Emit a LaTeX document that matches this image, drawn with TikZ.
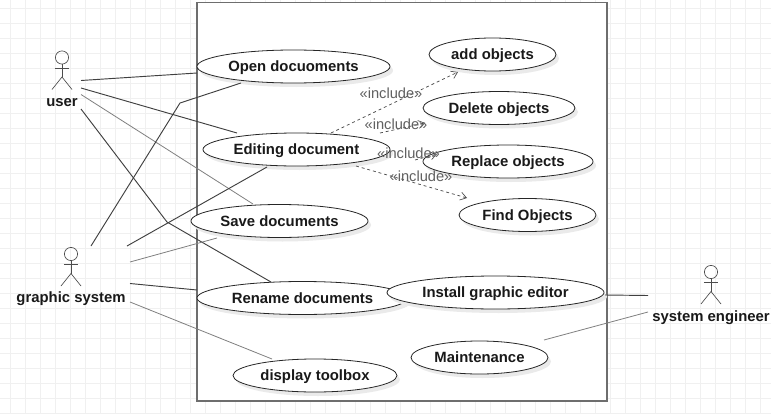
\documentclass[tikz,border=0pt]{standalone}
\usepackage{fontspec}
\setmainfont{Liberation Sans}
\usetikzlibrary{shapes.geometric,arrows.meta,calc}
\definecolor{boxgray}{HTML}{6E6E6E}
\definecolor{gridc}{HTML}{F0F0F0}
\definecolor{shad}{HTML}{EAEAEA}
\tikzset{
  x=0.75pt,y=-0.75pt,
  usecase/.style={ellipse,draw=black!85,fill=white,line width=0.6pt,inner sep=0,font=\bfseries\fontsize{11.15}{13}\selectfont,text=black!90,text height=9.4pt,text depth=1.6pt},
  actorlabel/.style={font=\bfseries\fontsize{11.15}{13}\selectfont,text=black!90,inner sep=0,text height=9.4pt,text depth=1.6pt},
  stick/.style={draw=black!70,line width=0.5pt},
  assoc/.style={draw=black!75,line width=0.7pt},
  assocl/.style={draw=black!50,line width=0.6pt},
  incl/.style={draw=black!70,line width=0.55pt,dash pattern=on 2.2pt off 2.2pt,-{Straight Barb[length=4.5pt,width=6pt,line width=0.5pt]}},
  incllabel/.style={font=\fontsize{11}{13}\selectfont,text=black!62,inner sep=0},
}
\newcommand{\ucase}[6]{% name, x1, x2, cy, ry(height), text
  \fill[shad] ({(#2+#3)/2+3},{#4+4}) ellipse ({(#3-#2)/2} and {#5/2});
  \node[usecase,minimum width={(#3-#2)*0.75pt},minimum height={#5*0.75pt}] (#1) at ({(#2+#3)/2},#4) {#6};
}
\newcommand{\actor}[5]{% name, cx, head cy, label y, text
  \coordinate (#1) at (#2,#3);
  \draw[stick] (#2,#3) circle (6.6);
  \draw[stick] (#2,#3+6.6) -- (#2,#3+19.5);
  \draw[stick] (#2-7.2,#3+10.5) -- (#2+7.2,#3+10.5);
  \draw[stick] (#2-10,#3+32) -- (#2,#3+19.5) -- (#2+10,#3+32);
  \node[actorlabel] (#1label) at (#2,#4) {#5};
}
\begin{document}
\begin{tikzpicture}
\useasboundingbox (0,0) rectangle (771,414);
\fill[white] (0,0) rectangle (771,414);
\foreach \i in {0,...,51} {\draw[gridc,line width=0.5pt] ({10+15*\i},0) -- ({10+15*\i},414);}
\foreach \j in {0,...,27} {\draw[gridc,line width=0.5pt] (0,{8+15*\j}) -- (771,{8+15*\j});}
\draw[boxgray,fill=white,line width=1pt] (197,2.5) rectangle (607,401);
\ucase{open}{197}{390}{66.5}{33}{Open docuoments}
\ucase{edit}{203}{390}{149.5}{33}{Editing document}
\ucase{add}{429}{556}{54.5}{33}{add objects}
\ucase{del}{423}{575}{108}{33}{Delete objects}
\ucase{rep}{423}{593}{161.5}{33}{Replace objects}
\ucase{find}{459}{596}{215}{33}{Find Objects}
\ucase{save}{191}{368}{221}{33}{Save documents}
\ucase{ren}{197}{408}{298}{33}{Rename documents}
\ucase{inst}{387}{604}{292.5}{33}{Install graphic editor}
\ucase{main}{411}{548}{357.5}{33}{Maintenance}
\ucase{disp}{233}{397}{375.5}{33}{display toolbox}
\actor{user}{62}{57.5}{101.5}{user}
\actor{gsys}{71}{254}{297.5}{graphic system}
\actor{seng}{711}{272}{316}{system engineer}
% free ends of connectors
\coordinate (u1) at (81,80.5); \coordinate (u2) at (81,88); \coordinate (u3) at (81,94.5); \coordinate (u4) at (81,109);
\coordinate (g1) at (91,246); \coordinate (g2) at (127,246); \coordinate (g3) at (130,262); \coordinate (g4) at (130,283.5); \coordinate (g5) at (130,302);
\coordinate (s1) at (648,295.5); \coordinate (s2) at (648,312);
\coordinate (openl) at (197,73); \coordinate (openb) at (241,83);
\coordinate (editt) at (237,133); \coordinate (editb) at (267,167);
\coordinate (savet) at (253,204); \coordinate (saveb) at (217,238);
\coordinate (rent) at (271,282); \coordinate (renl) at (197,290);
\coordinate (dispt) at (272,359); \coordinate (instr) at (605,295); \coordinate (maint) at (544,340);
\coordinate (e1) at (331,133); \coordinate (addb) at (458,72);
\coordinate (e2) at (380,133); \coordinate (delb) at (425,123);
\coordinate (e3) at (415,160); \coordinate (repl) at (437,154);
\coordinate (e4) at (356,166); \coordinate (findt) at (467,198);
\draw[assoc] (u1) -- (openl);
\draw[assoc] (u2) -- (editt);
\draw[assocl] (u3) -- (savet);
\draw[assoc] (u4) -- (167,222) -- (rent);
\draw[assoc] (g1) -- (180,103) -- (openb);
\draw[assoc] (g2) -- (editb);
\draw[assocl] (g3) -- (saveb);
\draw[assoc] (g4) -- (renl);
\draw[assocl] (g5) -- (dispt);
\draw[assoc] (s1) -- (instr);
\draw[assocl] (s2) -- (maint);
\draw[incl] (e1) -- (addb);
\draw[incl] (e2) -- (delb);
\draw[incl] (e3) -- (repl);
\draw[incl] (e4) -- (findt);
\node[incllabel] (l1) at (391,93) {«include»};
\node[incllabel] (l2) at (396,124) {«include»};
\node[incllabel] (l3) at (408.5,153) {«include»};
\node[incllabel] (l4) at (421,176.5) {«include»};
\end{tikzpicture}
\end{document}
